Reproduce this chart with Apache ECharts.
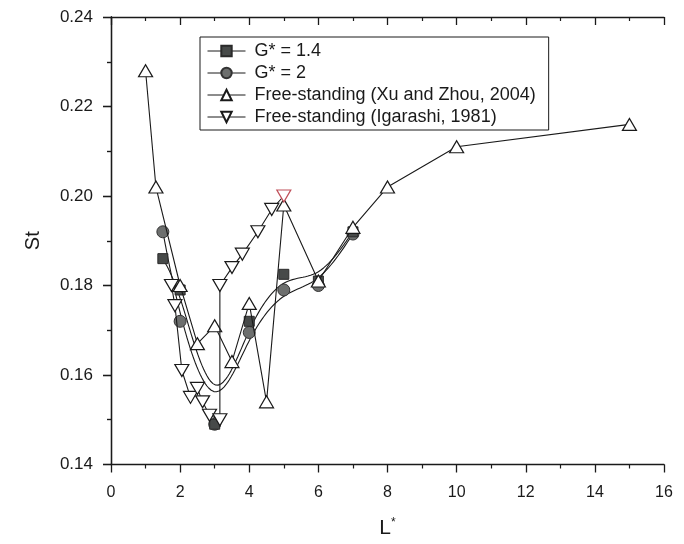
<!DOCTYPE html>
<html>
<head>
<meta charset="utf-8">
<script src="https://cdn.jsdelivr.net/npm/echarts@6/dist/echarts.min.js"></script>
<style>
  html, body { margin: 0; padding: 0; background: #fff; }
  #chart { width: 684px; height: 544px; }
</style>
</head>
<body>
<div id="chart"></div>
<script>
// G* = 1.4 measurements
const g14X = [1.5, 2, 3, 4, 5, 6, 7];
const g14Y = [0.186, 0.179, 0.149, 0.172, 0.1825, 0.181, 0.192];
// G* = 2 measurements
const g2X = [1.5, 2, 3, 4, 5, 6, 7];
const g2Y = [0.192, 0.172, 0.149, 0.1695, 0.179, 0.180, 0.1915];
// Free-standing cylinder (Xu and Zhou, 2004)
const xuX = [1, 1.3, 2, 2.5, 3, 3.5, 4, 4.5, 5, 6, 7, 8, 10, 15];
const xuY = [0.228, 0.202, 0.180, 0.167, 0.171, 0.163, 0.176, 0.154, 0.198, 0.181, 0.193, 0.202, 0.211, 0.216];
// Free-standing cylinder (Igarashi, 1981)
const igX = [1.75, 1.85, 2.05, 2.3, 2.5, 2.65, 2.85, 3.15, 3.15, 3.5, 3.8, 4.25, 4.65, 5.0];
const igY = [0.180, 0.1755, 0.161, 0.155, 0.157, 0.154, 0.151, 0.150, 0.180, 0.184, 0.187, 0.192, 0.197, 0.200];

// Axis ticks
const xTicks = [0, 2, 4, 6, 8, 10, 12, 14, 16];
const yTicks = [0.14, 0.16, 0.18, 0.20, 0.22, 0.24];

const names = ['G* = 1.4', 'G* = 2', 'Free-standing (Xu and Zhou, 2004)', 'Free-standing (Igarashi, 1981)'];

function pairs(xs, ys) { return xs.map((x, i) => [x, ys[i]]); }

// Uniform cubic B-spline with the data as control points; end points are
// tripled so the curve starts and ends on the first and last measurement.
function bspline(xs, ys, stepsPerSeg) {
  const px = [xs[0], xs[0], ...xs, xs[xs.length - 1], xs[xs.length - 1]];
  const py = [ys[0], ys[0], ...ys, ys[ys.length - 1], ys[ys.length - 1]];
  const out = [];
  for (let i = 0; i + 3 < px.length; i++) {
    for (let s = 0; s <= stepsPerSeg; s++) {
      if (i > 0 && s === 0) continue;
      const t = s / stepsPerSeg, t2 = t * t, t3 = t2 * t;
      const b0 = (1 - t) * (1 - t) * (1 - t) / 6;
      const b1 = (3 * t3 - 6 * t2 + 4) / 6;
      const b2 = (-3 * t3 + 3 * t2 + 3 * t + 1) / 6;
      const b3 = t3 / 6;
      out.push([
        b0 * px[i] + b1 * px[i + 1] + b2 * px[i + 2] + b3 * px[i + 3],
        b0 * py[i] + b1 * py[i + 1] + b2 * py[i + 2] + b3 * py[i + 3]
      ]);
    }
  }
  return out;
}

const FONT = 'Liberation Sans, Arial, sans-serif';
const INK = '#1a1a1a';

const chart = echarts.init(document.getElementById('chart'), null, { renderer: 'canvas' });

const hiddenLine = { color: INK, width: 1, opacity: 0 };
const axisLine = { show: true, lineStyle: { color: INK, width: 1.3 } };
const legendLine = { color: INK, width: 1, opacity: 1 };

chart.setOption({
  animation: false,
  backgroundColor: '#fff',
  grid: { left: 111, right: 20, top: 17, bottom: 79, containLabel: false },
  legend: {
    orient: 'vertical',
    left: 200, top: 37,
    data: names.map(n => ({ name: n, lineStyle: legendLine })),
    itemWidth: 38, itemHeight: 13, itemGap: 4,
    borderColor: INK, borderWidth: 1,
    padding: [5, 13, 4, 7],
    textStyle: { fontFamily: FONT, fontSize: 18, lineHeight: 18, color: INK, padding: [0, 0, 0, 4] },
    selectedMode: false
  },
  xAxis: [{
    type: 'value', min: xTicks[0], max: xTicks[xTicks.length - 1], interval: 2,
    name: 'L{s|*}', nameLocation: 'middle', nameGap: 52,
    nameTextStyle: { fontFamily: FONT, fontSize: 21, color: INK, rich: { s: { fontSize: 12, verticalAlign: 'top', padding: [0, 0, 12, 0], fontFamily: FONT, color: INK } } },
    axisLine: axisLine,
    axisTick: { show: true, inside: false, length: 8, lineStyle: { color: INK, width: 1.3 } },
    minorTick: { show: true, splitNumber: 2, length: 4, lineStyle: { color: INK, width: 1.2 } },
    axisLabel: { fontFamily: FONT, fontSize: 16, color: INK, margin: 20 },
    splitLine: { show: false }
  }, {
    type: 'value', position: 'top', min: xTicks[0], max: xTicks[xTicks.length - 1], interval: 2,
    axisLine: axisLine,
    axisTick: { show: true, inside: true, length: 8, lineStyle: { color: INK, width: 1.3 } },
    minorTick: { show: true, splitNumber: 2, length: 4, lineStyle: { color: INK, width: 1.2 } },
    axisLabel: { show: false }, splitLine: { show: false }
  }],
  yAxis: [{
    type: 'value', min: yTicks[0], max: yTicks[yTicks.length - 1], interval: 0.02,
    name: 'St', nameLocation: 'middle', nameGap: 68, nameRotate: 90,
    nameTextStyle: { fontFamily: FONT, fontSize: 20, color: INK },
    axisLine: axisLine,
    axisTick: { show: true, inside: false, length: 8, lineStyle: { color: INK, width: 1.3 } },
    minorTick: { show: true, splitNumber: 2, length: 4, lineStyle: { color: INK, width: 1.2 } },
    axisLabel: { fontFamily: FONT, fontSize: 17, color: INK, margin: 18, formatter: v => v.toFixed(2) },
    splitLine: { show: false }
  }, {
    type: 'value', position: 'right', min: yTicks[0], max: yTicks[yTicks.length - 1], interval: 0.02,
    axisLine: axisLine,
    axisTick: { show: true, inside: true, length: 8, lineStyle: { color: INK, width: 1.3 } },
    minorTick: { show: true, splitNumber: 2, length: 4, lineStyle: { color: INK, width: 1.2 } },
    axisLabel: { show: false }, splitLine: { show: false }
  }],
  series: [
    // smooth fit curves
    { type: 'line', data: bspline(g14X, g14Y, 40), showSymbol: false, symbol: 'none',
      lineStyle: { color: INK, width: 1.1 }, silent: true, z: 2 },
    { type: 'line', data: bspline(g2X, g2Y, 40), showSymbol: false, symbol: 'none',
      lineStyle: { color: INK, width: 1.1 }, silent: true, z: 2 },
    // measured points
    { name: names[0], type: 'line', data: pairs(g14X, g14Y), symbol: 'rect', symbolSize: 10,
      itemStyle: { color: '#474a49', borderColor: '#2a2a2a', borderWidth: 1 },
      lineStyle: hiddenLine, z: 4 },
    { name: names[1], type: 'line', data: pairs(g2X, g2Y), symbol: 'circle', symbolSize: 12,
      itemStyle: { color: '#6d6f6e', borderColor: '#333', borderWidth: 1 },
      lineStyle: hiddenLine, z: 3 },
    { name: names[2], type: 'line', data: pairs(xuX, xuY), symbol: 'triangle', symbolSize: [14, 12],
      itemStyle: { color: '#fff', borderColor: INK, borderWidth: 1.2 },
      lineStyle: { color: INK, width: 1.1 }, z: 5 },
    { name: names[3], type: 'line', data: pairs(igX, igY).map((p, i) =>
        i === igX.length - 1 ? { value: p, itemStyle: { borderColor: '#c0505a' } } : p),
      symbol: 'triangle', symbolRotate: 180, symbolSize: [14, 12],
      itemStyle: { color: '#fff', borderColor: INK, borderWidth: 1.2 },
      lineStyle: { color: INK, width: 1.1 }, z: 6 }
  ]
});
</script>
</body>
</html>
